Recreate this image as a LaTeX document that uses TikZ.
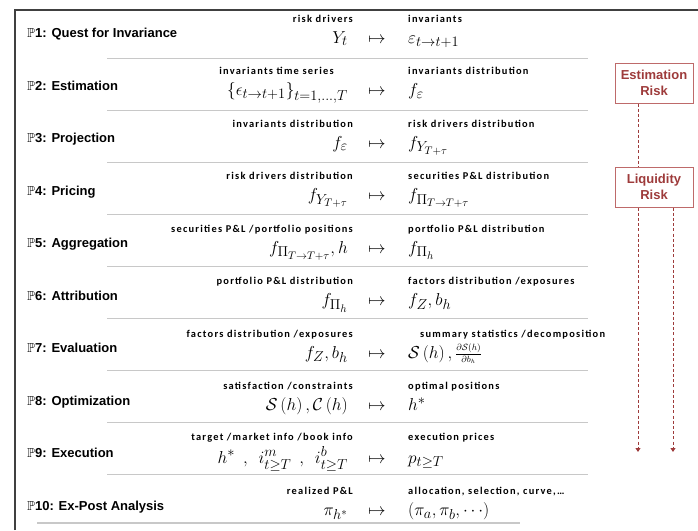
\documentclass[tikz,border=0pt]{standalone}
\usepackage{amssymb}
\usepackage{fontspec}
\setsansfont{Liberation Sans}
\newfontfamily\labfont[LetterSpace=12]{Carlito}
\usetikzlibrary{arrows.meta}
\DeclareMathSizes{16}{16}{13.5}{11}
\definecolor{riskred}{HTML}{9E3B3B}
\definecolor{riskframe}{HTML}{BE6A6A}
\definecolor{ruler}{HTML}{C8C8C8}
\definecolor{framegray}{HTML}{404040}
\begin{document}
\begin{tikzpicture}[x=1pt,y=-1pt,
 stage/.style={anchor=base west,inner sep=0pt,font=\sffamily\bfseries\fontsize{13}{15}\selectfont},
 inlab/.style={anchor=base east,inner sep=0pt,font=\labfont\bfseries\fontsize{10.4}{12}\selectfont},
 outlab/.style={anchor=base west,inner sep=0pt,font=\labfont\bfseries\fontsize{10.4}{12}\selectfont},
 inmath/.style={anchor=base east,inner sep=0pt,font=\fontsize{16}{18}\selectfont},
 outmath/.style={anchor=base west,inner sep=0pt,font=\fontsize{16}{18}\selectfont},
 maps/.style={anchor=base,inner sep=0pt,font=\fontsize{16}{18}\selectfont},
 sepline/.style={ruler,line width=1.2pt},
 riskbox/.style={draw=riskframe,line width=1pt,fill=white,text=riskred,align=center,minimum width=78pt,minimum height=40pt,inner sep=0pt,font=\sffamily\bfseries\fontsize{13}{16}\selectfont},
 riskline/.style={riskred,line width=1pt,dash pattern=on 3pt off 2.2pt,-{Triangle[length=4pt,width=5pt]}}]
 \useasboundingbox (0,0) rectangle (698,530);
 \draw[framegray,line width=1.3pt] (15,530) -- (15,10) -- (698,10);
 % separators
 \draw[sepline] (107,58.5) -- (588,58.5);
 \draw[sepline] (107,110.5) -- (588,110.5);
 \draw[sepline] (107,162.5) -- (588,162.5);
 \draw[sepline] (107,214.5) -- (588,214.5);
 \draw[sepline] (107,266.5) -- (588,266.5);
 \draw[sepline] (107,318.5) -- (588,318.5);
 \draw[sepline] (107,370.5) -- (588,370.5);
 \draw[sepline] (107,422.5) -- (588,422.5);
 \draw[sepline] (107,474.5) -- (588,474.5);
 \draw[sepline] (37,523) -- (520,523);
 % P1
 \node[stage] (p1) at (27,37.5) {$\mathbb{P}$1: Quest for Invariance};
 \node[inlab] (in1) at (353,22) {risk drivers};
 \node[inmath] (x1) at (348,43) {$Y_t$};
 \node[maps] (m1) at (377,43) {$\mapsto$};
 \node[outlab] (out1) at (408,22) {invariants};
 \node[outmath] (y1) at (408,43) {$\varepsilon_{t\rightarrow t+1}$};
 % P2
 \node[stage] (p2) at (27,90) {$\mathbb{P}$2: Estimation};
 \node[inlab] (in2) at (334,74.5) {invariants time series};
 \node[inmath] (x2) at (348,95.5) {$\left\{\epsilon_{t\rightarrow t+1}\right\}_{t=1,\ldots,T}$};
 \node[maps] (m2) at (377,95.5) {$\mapsto$};
 \node[outlab] (out2) at (408,74.5) {invariants distribution};
 \node[outmath] (y2) at (408,95.5) {$f_{\varepsilon}$};
 % P3
 \node[stage] (p3) at (27,142.5) {$\mathbb{P}$3: Projection};
 \node[inlab] (in3) at (353,127) {invariants distribution};
 \node[inmath] (x3) at (348,148) {$f_{\varepsilon}$};
 \node[maps] (m3) at (377,148) {$\mapsto$};
 \node[outlab] (out3) at (408,127) {risk drivers distribution};
 \node[outmath] (y3) at (408,148) {$f_{Y_{T+\tau}}$};
 % P4
 \node[stage] (p4) at (27,195) {$\mathbb{P}$4: Pricing};
 \node[inlab] (in4) at (353,179.5) {risk drivers distribution};
 \node[inmath] (x4) at (348,200.5) {$f_{Y_{T+\tau}}$};
 \node[maps] (m4) at (377,200.5) {$\mapsto$};
 \node[outlab] (out4) at (408,179.5) {securities P\&L distribution};
 \node[outmath] (y4) at (408,200.5) {$f_{\Pi_{T\rightarrow T+\tau}}$};
 % P5
 \node[stage] (p5) at (27,247.5) {$\mathbb{P}$5: Aggregation};
 \node[inlab] (in5) at (353,232) {securities P\&L /portfolio positions};
 \node[inmath] (x5) at (348,253) {$f_{\Pi_{T\rightarrow T+\tau}},h$};
 \node[maps] (m5) at (377,253) {$\mapsto$};
 \node[outlab] (out5) at (408,232) {portfolio P\&L distribution};
 \node[outmath] (y5) at (408,253) {$f_{\Pi_h}$};
 % P6
 \node[stage] (p6) at (27,300) {$\mathbb{P}$6: Attribution};
 \node[inlab] (in6) at (353,284.5) {portfolio P\&L distribution};
 \node[inmath] (x6) at (348,305.5) {$f_{\Pi_h}$};
 \node[maps] (m6) at (377,305.5) {$\mapsto$};
 \node[outlab] (out6) at (408,284.5) {factors distribution /exposures};
 \node[outmath] (y6) at (408,305.5) {$f_Z,b_h$};
 % P7
 \node[stage] (p7) at (27,352.5) {$\mathbb{P}$7: Evaluation};
 \node[inlab] (in7) at (353,337) {factors distribution /exposures};
 \node[inmath] (x7) at (348,358) {$f_Z,b_h$};
 \node[maps] (m7) at (377,358) {$\mapsto$};
 \node[outlab] (out7) at (420,337) {summary statistics /decomposition};
 \node[outmath] (y7) at (408,358) {$\mathcal{S}\left(h\right),\,$\raisebox{1.5pt}{\fontsize{9}{10}\selectfont$\displaystyle\frac{\partial\mathcal{S}(h)}{\partial b_h}$}};
 % P8
 \node[stage] (p8) at (27,405) {$\mathbb{P}$8: Optimization};
 \node[inlab] (in8) at (353,389.5) {satisfaction /constraints};
 \node[inmath] (x8) at (348,410.5) {$\mathcal{S}\left(h\right),\mathcal{C}\left(h\right)$};
 \node[maps] (m8) at (377,410.5) {$\mapsto$};
 \node[outlab] (out8) at (408,389.5) {optimal positions};
 \node[outmath] (y8) at (408,410.5) {$h^*$};
 % P9
 \node[stage] (p9) at (27,457.5) {$\mathbb{P}$9: Execution};
 \node[inlab] (in9) at (353,440.5) {target /market info /book info};
 \node[inmath] (x9) at (348,463) {$h^*\enspace,\enspace i^m_{t\geq T}\enspace,\enspace i^b_{t\geq T}$};
 \node[maps] (m9) at (377,463) {$\mapsto$};
 \node[outlab] (out9) at (408,440.5) {execution prices};
 \node[outmath] (y9) at (408,463) {$p_{t\geq T}$};
 % P10
 \node[stage] (p10) at (27,510) {$\mathbb{P}$10: Ex-Post Analysis};
 \node[inlab] (in10) at (353,494.5) {realized P\&L};
 \node[inmath] (x10) at (348,515.5) {$\pi_{h^*}$};
 \node[maps] (m10) at (377,515.5) {$\mapsto$};
 \node[outlab] (out10) at (408,494.5) {allocation, selection, curve,…};
 \node[outmath] (y10) at (408,515.5) {$\left(\pi_a,\pi_b,\cdots\right)$};
 % risks
 \node[riskbox] (est) at (654,83) {Estimation\\Risk};
 \coordinate (estend) at (638,452);
 \draw[riskline] ([xshift=-16pt]est.south) -- (estend);
 \node[riskbox] (liq) at (654,187) {Liquidity\\Risk};
 \coordinate (liqend) at (673,452);
 \draw[riskline] ([xshift=19pt]liq.south) -- (liqend);
\end{tikzpicture}
\end{document}
